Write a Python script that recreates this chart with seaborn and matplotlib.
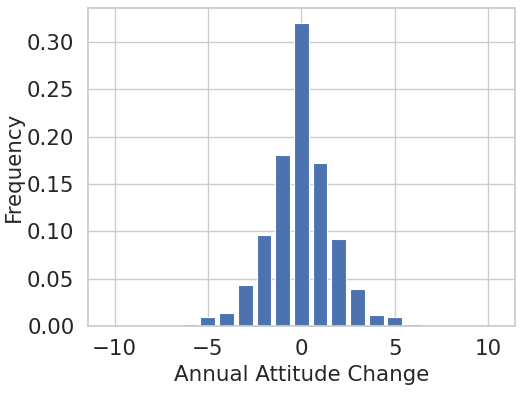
import numpy as np
import pandas as pd
import matplotlib
matplotlib.use("Agg")
import matplotlib.pyplot as plt
import seaborn as sns

changes = list(range(-10, 11))
freqs = [0.0003, 0.0003, 0.0003, 0.0005, 0.002, 0.010, 0.014, 0.044, 0.096, 0.181,
         0.320, 0.172, 0.092, 0.039, 0.012, 0.010, 0.002, 0.0005, 0.0003, 0.0003, 0.0003]

sns.set_theme(style="whitegrid", font_scale=1.4)
df = pd.DataFrame({"change": changes, "freq": freqs})

fig, ax = plt.subplots(figsize=(5.31, 3.93), dpi=100)
sns.barplot(data=df, x="change", y="freq", native_scale=True, width=0.8,
            color="#4c72b0", saturation=1, edgecolor="white", linewidth=0.8, ax=ax)
ax.set_xlabel("Annual Attitude Change", fontsize=15.4)
ax.set_ylabel("Frequency", fontsize=15.4, labelpad=2)
ax.set_xticks([-10, -5, 0, 5, 10])
ax.set_xticklabels(["−10", "−5", "0", "5", "10"])
ax.set_xlim(-11.44, 11.44)
ax.set_ylim(0, 0.336)
ax.set_yticks([0.0, 0.05, 0.10, 0.15, 0.20, 0.25, 0.30])
ax.set_yticklabels(["0.00", "0.05", "0.10", "0.15", "0.20", "0.25", "0.30"])
ax.grid(True, axis="both")
fig.subplots_adjust(left=0.165, right=0.97, bottom=0.17, top=0.98)
fig.savefig("out.png", dpi=100)
